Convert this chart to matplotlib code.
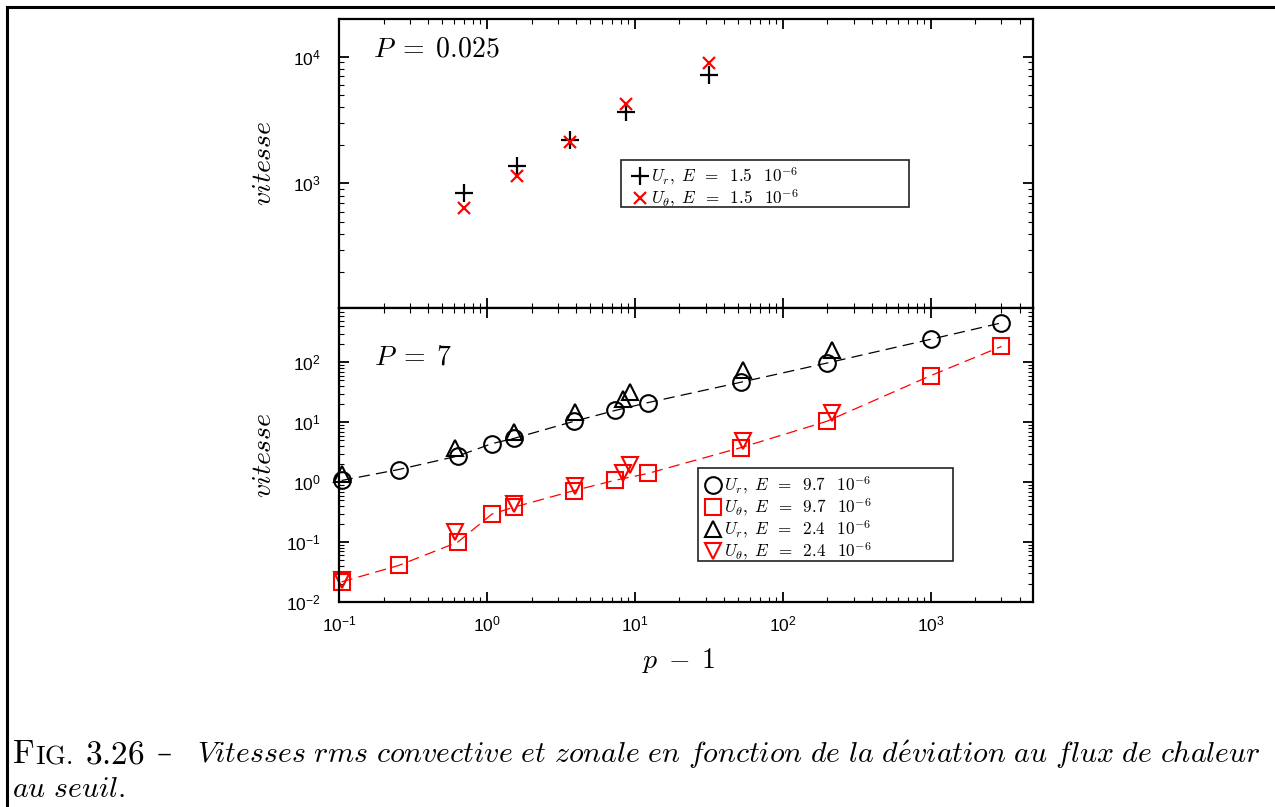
import numpy as np
import matplotlib
matplotlib.use("Agg")
import matplotlib.pyplot as plt
from matplotlib.lines import Line2D
from matplotlib.patches import Rectangle

plt.rcParams['font.family'] = ['Liberation Sans', 'DejaVu Sans']
plt.rcParams['mathtext.fontset'] = 'custom'
plt.rcParams['mathtext.rm'] = 'Liberation Sans'
plt.rcParams['mathtext.it'] = 'Liberation Sans:italic'

# --- P = 0.025, E = 1.5e-6
p_top = [0.70, 1.60, 3.64, 8.7, 31.5]
ur_top = [843, 1378, 2200, 3656, 7163]
ut_top = [643, 1150, 2108, 4208, 8980]

# --- P = 7, E = 9.7e-6
p_a = [0.104, 0.253, 0.632, 1.08, 1.53, 3.87, 7.36, 12.2, 51.9, 198, 1000, 3000]
ur_a = [1.07, 1.63, 2.73, 4.41, 5.42, 10.4, 15.8, 21.3, 46.7, 97.6, 244, 458]
ut_a = [0.0217, 0.0408, 0.0994, 0.294, 0.385, 0.724, 1.08, 1.40, 3.78, 10.4, 60.4, 185]

# --- P = 7, E = 2.4e-6
p_b = [0.104, 0.61, 1.53, 3.96, 8.3, 9.2, 53.9, 213]
ur_b = [1.35, 3.78, 7.0, 14.6, 24.5, 31.7, 75.3, 159]
ut_b = [0.0231, 0.15, 0.438, 0.879, 1.44, 1.93, 4.89, 14.3]

fig = plt.figure(figsize=(12.75, 8.07), dpi=100)
ax1 = fig.add_axes([0.2659, 0.6183, 0.5443, 0.3582])
ax2 = fig.add_axes([0.2659, 0.2540, 0.5443, 0.3643])

for ax in (ax1, ax2):
    ax.set_xscale('log')
    ax.set_yscale('log')
    ax.set_xlim(0.1, 4900)
    ax.tick_params(which='both', direction='in', top=True, right=True, labelsize=12.5)
    ax.tick_params(which='major', length=7, width=1.3)
    ax.tick_params(which='minor', length=3.5, width=0.8)
    ax.tick_params(axis='y', pad=13)
    ax.tick_params(axis='x', pad=9)
    for s in ax.spines.values():
        s.set_linewidth(1.6)

# top panel
ax1.set_ylim(104, 19800)
ax1.plot(p_top, ur_top, ls='none', marker='+', ms=13, mew=1.6, color='black',
         label=r'$U_r,\;E\;\;=\;\;1.5\;\;\;10^{-6}$')
ax1.plot(p_top, ut_top, ls='none', marker='x', ms=9, mew=1.6, color='red',
         label=r'$U_\theta,\;E\;\;=\;\;1.5\;\;\;10^{-6}$')
ax1.tick_params(axis='x', labelbottom=False)
ax1.text(0.049, 0.893, r'$P\;=\;0.025$', transform=ax1.transAxes, fontsize=20,
         va='center', ha='left', math_fontfamily='cm')
ax1.set_ylabel(r'$vitesse$', fontsize=20, math_fontfamily='cm')
ax1.yaxis.set_label_coords(-0.09, 0.5)
ax1.add_patch(Rectangle((0.406, 0.349), 0.415, 0.163, transform=ax1.transAxes,
                        fill=False, ec='#222222', lw=1.2, zorder=5))
leg1 = ax1.legend(loc='upper left', bbox_to_anchor=(0.405, 0.535), frameon=False,
                  fontsize=12.3, handlelength=0.9, handletextpad=0.2,
                  labelspacing=0.0, borderpad=0.2)
for t in leg1.get_texts():
    t.set_math_fontfamily('cm')

# bottom panel
ax2.set_ylim(0.01, 810)
ax2.plot(p_a, ur_a, color='black', lw=0.9, dashes=(9, 5))
ax2.plot(p_a, ut_a, color='red', lw=0.9, dashes=(9, 5))
ax2.plot(p_a, ur_a, ls='none', marker='o', ms=12, mfc='none', mec='black', mew=1.5,
         clip_on=False, label=r'$U_r,\;E\;\;=\;\;9.7\;\;\;10^{-6}$')
ax2.plot(p_a, ut_a, ls='none', marker='s', ms=11, mfc='none', mec='red', mew=1.5,
         clip_on=False, label=r'$U_\theta,\;E\;\;=\;\;9.7\;\;\;10^{-6}$')
ax2.plot(p_b, ur_b, ls='none', marker='^', ms=12, mfc='none', mec='black', mew=1.5,
         clip_on=False, label=r'$U_r,\;E\;\;=\;\;2.4\;\;\;10^{-6}$')
ax2.plot(p_b, ut_b, ls='none', marker='v', ms=12, mfc='none', mec='red', mew=1.5,
         clip_on=False, label=r'$U_\theta,\;E\;\;=\;\;2.4\;\;\;10^{-6}$')
ax2.text(0.05, 0.833, r'$P\;=\;7$', transform=ax2.transAxes, fontsize=20,
         va='center', ha='left', math_fontfamily='cm')
ax2.set_ylabel(r'$vitesse$', fontsize=20, math_fontfamily='cm')
ax2.yaxis.set_label_coords(-0.09, 0.5)
ax2.set_xlabel(r'$p\;-\;1$', fontsize=20, math_fontfamily='cm')
ax2.xaxis.set_label_coords(0.49, -0.15)
ax2.add_patch(Rectangle((0.517, 0.139), 0.368, 0.317, transform=ax2.transAxes,
                        fill=False, ec='#222222', lw=1.2, zorder=5))
leg2 = ax2.legend(loc='upper left', bbox_to_anchor=(0.510, 0.475), frameon=False,
                  fontsize=12.3, handlelength=0.9, handletextpad=0.2,
                  labelspacing=0.0, borderpad=0.2)
for t in leg2.get_texts():
    t.set_math_fontfamily('cm')

# page frame (top and left)
fig.add_artist(Line2D([0.0055, 1.0], [0.9913, 0.9913], color='black', lw=2.2,
                      transform=fig.transFigure))
fig.add_artist(Line2D([0.0055, 0.0055], [0.0, 0.9913], color='black', lw=2.2,
                      transform=fig.transFigure))

# caption ("FIG." in small caps, pieces placed one after another)
W = 1275.0
y1 = 1 - 763 / 807
y2 = 1 - 797 / 807
fs = 21.5
rs = 24.0
renderer = fig.canvas.get_renderer()
x = 12.0
for s, size, gap in [('F', rs, 0.5), ('IG.', rs * 0.8, 13), ('3.26', rs, 11)]:
    t = fig.text(x / W, y1, r'$\mathrm{' + s + '}$', fontsize=size,
                 math_fontfamily='cm', va='baseline')
    x = t.get_window_extent(renderer).x1 + gap
fig.text(x / W, y1, '–', fontsize=rs * 0.9, family='DejaVu Serif', va='baseline')
fig.text(197 / W, y1, r'$\mathit{Vitesses\ rms\ convective\ et\ zonale\ en\ fonction\ de\ la\ d\acute{e}viation\ au\ flux\ de\ chaleur}$',
         fontsize=fs, math_fontfamily='cm', va='baseline')
fig.text(12 / W, y2, r'$\mathit{au\ seuil.}$', fontsize=fs, math_fontfamily='cm', va='baseline')

fig.savefig('out.png', dpi=100)
